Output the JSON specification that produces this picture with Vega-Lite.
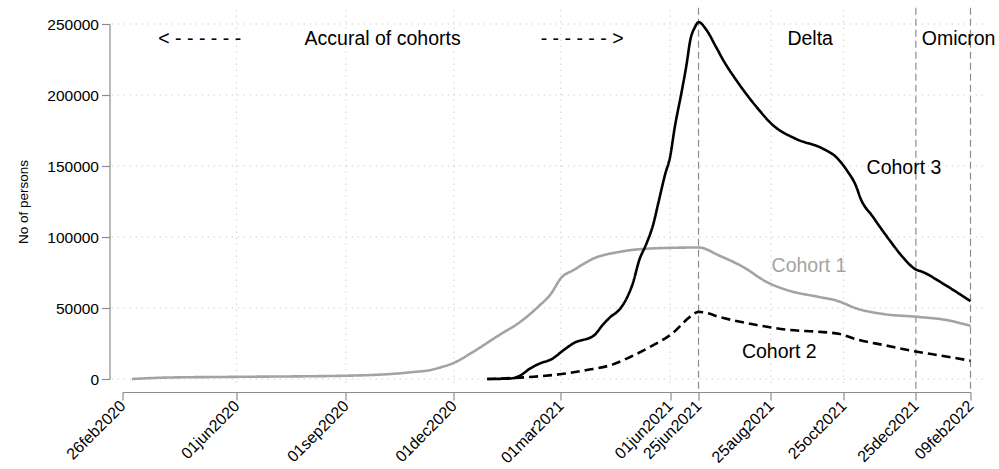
{
  "$schema": "https://vega.github.io/schema/vega-lite/v6.json",
  "width": 848,
  "height": 355,
  "autosize": {"type": "none"},
  "padding": {"left": 122.5, "top": 24, "right": 28.5, "bottom": 90},
  "config": {"view": {"stroke": null}, "font": "Liberation Sans"},
  "datasets": {
    "series": [
      {"c": "Cohort 1", "d": "2020-03-05", "v": 0},
      {"c": "Cohort 1", "d": "2020-04-03", "v": 1000},
      {"c": "Cohort 1", "d": "2020-05-29", "v": 1500},
      {"c": "Cohort 1", "d": "2020-09-01", "v": 2300},
      {"c": "Cohort 1", "d": "2020-10-25", "v": 4700},
      {"c": "Cohort 1", "d": "2020-11-14", "v": 6800},
      {"c": "Cohort 1", "d": "2020-11-19", "v": 8000},
      {"c": "Cohort 1", "d": "2020-11-30", "v": 11000},
      {"c": "Cohort 1", "d": "2020-12-17", "v": 19000},
      {"c": "Cohort 1", "d": "2021-01-06", "v": 29800},
      {"c": "Cohort 1", "d": "2021-01-26", "v": 40300},
      {"c": "Cohort 1", "d": "2021-02-10", "v": 50900},
      {"c": "Cohort 1", "d": "2021-02-21", "v": 60300},
      {"c": "Cohort 1", "d": "2021-03-01", "v": 70900},
      {"c": "Cohort 1", "d": "2021-03-12", "v": 76800},
      {"c": "Cohort 1", "d": "2021-03-29", "v": 85000},
      {"c": "Cohort 1", "d": "2021-04-20", "v": 89600},
      {"c": "Cohort 1", "d": "2021-05-18", "v": 92000},
      {"c": "Cohort 1", "d": "2021-06-25", "v": 92600},
      {"c": "Cohort 1", "d": "2021-07-13", "v": 86700},
      {"c": "Cohort 1", "d": "2021-08-02", "v": 78700},
      {"c": "Cohort 1", "d": "2021-08-21", "v": 68500},
      {"c": "Cohort 1", "d": "2021-09-10", "v": 62000},
      {"c": "Cohort 1", "d": "2021-10-03", "v": 58000},
      {"c": "Cohort 1", "d": "2021-10-20", "v": 55000},
      {"c": "Cohort 1", "d": "2021-11-05", "v": 49700},
      {"c": "Cohort 1", "d": "2021-11-28", "v": 45700},
      {"c": "Cohort 1", "d": "2021-12-26", "v": 43800},
      {"c": "Cohort 1", "d": "2022-01-20", "v": 41500},
      {"c": "Cohort 1", "d": "2022-02-09", "v": 37500},
      {"c": "Cohort 2", "d": "2020-12-29", "v": 0},
      {"c": "Cohort 2", "d": "2021-02-06", "v": 1600},
      {"c": "Cohort 2", "d": "2021-02-28", "v": 3300},
      {"c": "Cohort 2", "d": "2021-03-23", "v": 6300},
      {"c": "Cohort 2", "d": "2021-04-14", "v": 10300},
      {"c": "Cohort 2", "d": "2021-04-28", "v": 15300},
      {"c": "Cohort 2", "d": "2021-05-18", "v": 23900},
      {"c": "Cohort 2", "d": "2021-06-03", "v": 32100},
      {"c": "Cohort 2", "d": "2021-06-18", "v": 43900},
      {"c": "Cohort 2", "d": "2021-06-25", "v": 47300},
      {"c": "Cohort 2", "d": "2021-07-16", "v": 42900},
      {"c": "Cohort 2", "d": "2021-08-13", "v": 38000},
      {"c": "Cohort 2", "d": "2021-09-10", "v": 34500},
      {"c": "Cohort 2", "d": "2021-10-03", "v": 33300},
      {"c": "Cohort 2", "d": "2021-10-22", "v": 31700},
      {"c": "Cohort 2", "d": "2021-11-05", "v": 27900},
      {"c": "Cohort 2", "d": "2021-11-28", "v": 23900},
      {"c": "Cohort 2", "d": "2021-12-26", "v": 19200},
      {"c": "Cohort 2", "d": "2022-01-17", "v": 16200},
      {"c": "Cohort 2", "d": "2022-02-09", "v": 12900},
      {"c": "Cohort 3", "d": "2020-12-29", "v": 0},
      {"c": "Cohort 3", "d": "2021-01-17", "v": 300},
      {"c": "Cohort 3", "d": "2021-01-26", "v": 2500},
      {"c": "Cohort 3", "d": "2021-02-03", "v": 7300},
      {"c": "Cohort 3", "d": "2021-02-11", "v": 10800},
      {"c": "Cohort 3", "d": "2021-02-22", "v": 14300},
      {"c": "Cohort 3", "d": "2021-03-03", "v": 20100},
      {"c": "Cohort 3", "d": "2021-03-12", "v": 25300},
      {"c": "Cohort 3", "d": "2021-03-29", "v": 30700},
      {"c": "Cohort 3", "d": "2021-04-05", "v": 37700},
      {"c": "Cohort 3", "d": "2021-04-11", "v": 43100},
      {"c": "Cohort 3", "d": "2021-04-20", "v": 49500},
      {"c": "Cohort 3", "d": "2021-04-26", "v": 57700},
      {"c": "Cohort 3", "d": "2021-05-01", "v": 68200},
      {"c": "Cohort 3", "d": "2021-05-06", "v": 83500},
      {"c": "Cohort 3", "d": "2021-05-12", "v": 95000},
      {"c": "Cohort 3", "d": "2021-05-18", "v": 109300},
      {"c": "Cohort 3", "d": "2021-05-22", "v": 123400},
      {"c": "Cohort 3", "d": "2021-05-28", "v": 144500},
      {"c": "Cohort 3", "d": "2021-06-01", "v": 156200},
      {"c": "Cohort 3", "d": "2021-06-05", "v": 177300},
      {"c": "Cohort 3", "d": "2021-06-11", "v": 203200},
      {"c": "Cohort 3", "d": "2021-06-15", "v": 221900},
      {"c": "Cohort 3", "d": "2021-06-18", "v": 238400},
      {"c": "Cohort 3", "d": "2021-06-22", "v": 247800},
      {"c": "Cohort 3", "d": "2021-06-25", "v": 251300},
      {"c": "Cohort 3", "d": "2021-07-02", "v": 245400},
      {"c": "Cohort 3", "d": "2021-07-09", "v": 235000},
      {"c": "Cohort 3", "d": "2021-07-16", "v": 224300},
      {"c": "Cohort 3", "d": "2021-07-28", "v": 209000},
      {"c": "Cohort 3", "d": "2021-08-13", "v": 191400},
      {"c": "Cohort 3", "d": "2021-08-27", "v": 178500},
      {"c": "Cohort 3", "d": "2021-09-15", "v": 169100},
      {"c": "Cohort 3", "d": "2021-10-08", "v": 162100},
      {"c": "Cohort 3", "d": "2021-10-19", "v": 156200},
      {"c": "Cohort 3", "d": "2021-10-28", "v": 146800},
      {"c": "Cohort 3", "d": "2021-11-05", "v": 135100},
      {"c": "Cohort 3", "d": "2021-11-08", "v": 128000},
      {"c": "Cohort 3", "d": "2021-11-19", "v": 114000},
      {"c": "Cohort 3", "d": "2021-12-03", "v": 97600},
      {"c": "Cohort 3", "d": "2021-12-14", "v": 85800},
      {"c": "Cohort 3", "d": "2021-12-24", "v": 77600},
      {"c": "Cohort 3", "d": "2021-12-31", "v": 75300},
      {"c": "Cohort 3", "d": "2022-01-17", "v": 67100},
      {"c": "Cohort 3", "d": "2022-02-09", "v": 54800}
    ],
    "labels": [
      {"t": "< - - - - - -", "d": "2020-05-01", "v": 235470},
      {"t": "Accural of cohorts", "d": "2020-10-02", "v": 235470},
      {"t": "- - - - - - >", "d": "2021-03-19", "v": 235470},
      {"t": "Delta", "d": "2021-09-27", "v": 235470},
      {"t": "Omicron", "d": "2022-01-30", "v": 235470},
      {"t": "Cohort 3", "d": "2021-12-15", "v": 144700},
      {"t": "Cohort 1", "d": "2021-09-26", "v": 75400},
      {"t": "Cohort 2", "d": "2021-09-01", "v": 14800}
    ],
    "hgrid": [{"v": 0}, {"v": 50000}, {"v": 100000}, {"v": 150000}, {"v": 200000}, {"v": 250000}],
    "vgrid": [{"d": "2020-06-01"}, {"d": "2020-09-01"}, {"d": "2020-12-01"}, {"d": "2021-03-01"}, {"d": "2021-06-01"}, {"d": "2021-08-25"}, {"d": "2021-10-25"}],
    "events": [{"d": "2021-06-25"}, {"d": "2021-12-25"}, {"d": "2022-02-09"}]
  },
  "layer": [
    {
      "data": {"name": "hgrid"},
      "mark": {"type": "rule", "color": "#bdbdbd", "strokeDash": [1, 5], "strokeWidth": 1},
      "encoding": {
        "y": {"field": "v", "type": "quantitative"},
        "x": {"datum": {"year": 2020, "month": 2, "date": 17, "utc": true}, "type": "temporal"},
        "x2": {"datum": {"year": 2022, "month": 2, "date": 20, "utc": true}}
      }
    },
    {
      "data": {"name": "vgrid"},
      "mark": {"type": "rule", "color": "#bdbdbd", "strokeDash": [1, 5], "strokeWidth": 1},
      "encoding": {
        "x": {"field": "d", "type": "temporal"},
        "y": {"datum": 260100, "type": "quantitative"},
        "y2": {"datum": -4230}
      }
    },
    {
      "data": {"name": "events"},
      "mark": {"type": "rule", "color": "#8c8c8c", "strokeDash": [7, 4], "strokeWidth": 1.2},
      "encoding": {
        "x": {"field": "d", "type": "temporal"},
        "y": {"datum": 261500, "type": "quantitative"},
        "y2": {"datum": -9000}
      }
    },
    {
      "data": {"name": "series"},
      "mark": {"type": "line", "interpolate": "monotone", "strokeWidth": 2.6},
      "encoding": {
        "x": {
          "field": "d",
          "type": "temporal",
          "scale": {
            "type": "utc",
            "domain": [{"year": 2020, "month": 2, "date": 26, "utc": true}, {"year": 2022, "month": 2, "date": 9, "utc": true}],
            "nice": false
          },
          "axis": {
            "title": null,
            "grid": false,
            "values": [
              {"year": 2020, "month": 2, "date": 26, "utc": true},
              {"year": 2020, "month": 6, "date": 1, "utc": true},
              {"year": 2020, "month": 9, "date": 1, "utc": true},
              {"year": 2020, "month": 12, "date": 1, "utc": true},
              {"year": 2021, "month": 3, "date": 1, "utc": true},
              {"year": 2021, "month": 6, "date": 1, "utc": true},
              {"year": 2021, "month": 6, "date": 25, "utc": true},
              {"year": 2021, "month": 8, "date": 25, "utc": true},
              {"year": 2021, "month": 10, "date": 25, "utc": true},
              {"year": 2021, "month": 12, "date": 25, "utc": true},
              {"year": 2022, "month": 2, "date": 9, "utc": true}
            ],
            "labelExpr": "lower(utcFormat(datum.value, '%d%b%Y'))",
            "labelAngle": -45,
            "labelAlign": "right",
            "labelBaseline": "middle",
            "labelFontSize": 16,
            "labelColor": "#000000",
            "labelPadding": 3,
            "labelOverlap": false,
            "labelBound": false,
            "labelFlush": false,
            "tickSize": 8,
            "tickColor": "#8c8c8c",
            "tickWidth": 1.2,
            "domainColor": "#8c8c8c",
            "domainWidth": 1.2,
            "offset": 13
          }
        },
        "y": {
          "field": "v",
          "type": "quantitative",
          "scale": {"domain": [0, 250000], "nice": false, "zero": false},
          "axis": {
            "title": "No of persons",
            "grid": false,
            "values": [0, 50000, 100000, 150000, 200000, 250000],
            "format": "d",
            "labelFontSize": 15.5,
            "labelColor": "#000000",
            "labelPadding": 3,
            "tickSize": 8,
            "tickColor": "#8c8c8c",
            "tickWidth": 1.2,
            "domainColor": "#8c8c8c",
            "domainWidth": 1.2,
            "offset": 13,
            "titleFontSize": 13.5,
            "titleFontWeight": "normal",
            "titleColor": "#000000",
            "titlePadding": 16
          }
        },
        "color": {
          "field": "c",
          "type": "nominal",
          "scale": {"domain": ["Cohort 1", "Cohort 2", "Cohort 3"], "range": ["#a3a3a3", "#000000", "#000000"]},
          "legend": null
        },
        "strokeDash": {
          "field": "c",
          "type": "nominal",
          "scale": {"domain": ["Cohort 1", "Cohort 2", "Cohort 3"], "range": [[1, 0], [9, 5], [1, 0]]},
          "legend": null
        }
      }
    },
    {
      "data": {"name": "labels"},
      "mark": {"type": "text", "fontSize": 19.5, "align": "center", "baseline": "alphabetic", "font": "Liberation Sans"},
      "encoding": {
        "x": {"field": "d", "type": "temporal"},
        "y": {"field": "v", "type": "quantitative"},
        "text": {"field": "t"},
        "color": {"condition": {"test": "datum.t === 'Cohort 1'", "value": "#a3a3a3"}, "value": "#000000"}
      }
    }
  ]
}
